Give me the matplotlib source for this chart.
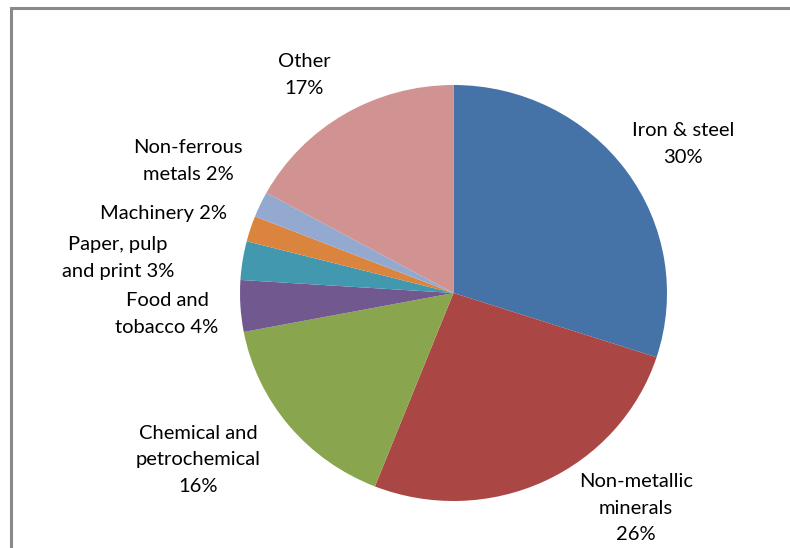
import matplotlib
matplotlib.use("Agg")
import matplotlib.pyplot as plt
from matplotlib.patches import Rectangle

categories = ["Iron & steel", "Non-metallic minerals", "Chemical and petrochemical",
              "Food and tobacco", "Paper, pulp and print", "Machinery",
              "Non-ferrous metals", "Other"]
values = [30, 26, 16, 4, 3, 2, 2, 17]
label_texts = ["Iron & steel\n30%", "Non-metallic\nminerals\n26%", "Chemical and\npetrochemical\n16%",
               "Food and\ntobacco 4%", "Paper, pulp\nand print 3%", "Machinery 2%",
               "Non-ferrous\nmetals 2%", "Other\n17%"]
colors = ["#4572A7", "#AA4643", "#89A54E", "#71588F", "#4198AF", "#DB843D", "#93A9CF", "#D19392"]
# label centres in pixel coordinates (x, y from top)
label_pos = [(683, 144), (636, 508), (198, 460), (167, 314), (118, 258), (164, 214), (188, 161), (304, 75)]

W, H = 790, 548
fig = plt.figure(figsize=(W / 100, H / 100), dpi=100)
plt.rcParams['font.family'] = ['Lato', 'DejaVu Sans']

# frame
fig.patches.append(Rectangle((10.5 / W, -0.1), 1.2, (H - 8.5) / H + 0.1, transform=fig.transFigure,
                             fill=False, edgecolor="#8a8a8a", linewidth=2.2))

cx, cy, rx, ry = 453.5, 293, 213.5, 208
ax = fig.add_axes([(cx - rx) / W, (H - cy - ry) / H, 2 * rx / W, 2 * ry / H])
ax.pie(values, colors=colors, startangle=90, counterclock=False, radius=1,
       wedgeprops=dict(linewidth=0))
ax.set_aspect("auto")
ax.set_xlim(-1, 1)
ax.set_ylim(-1, 1)
ax.axis("off")

for txt, (px, py) in zip(label_texts, label_pos):
    fig.text(px / W, 1 - py / H, txt, ha="center", va="center", fontsize=14.5,
             color="#000000", linespacing=1.7)

fig.savefig("out.png", dpi=100)
